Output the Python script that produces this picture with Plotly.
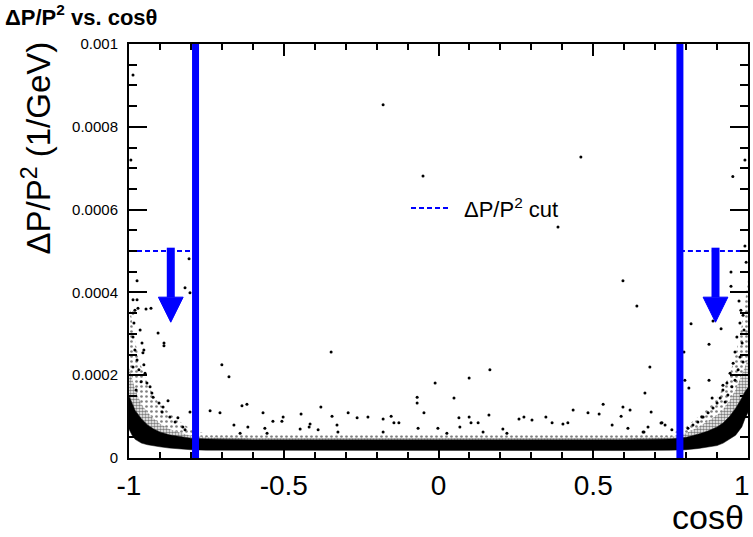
import plotly.graph_objects as go

# ---------------- data ----------------
x_tickvals = [-1, -0.5, 0, 0.5, 1]
x_ticktext = ["-1", "-0.5", "0", "0.5", "1"]
y_tickvals = [0, 0.0002, 0.0004, 0.0006, 0.0008, 0.001]
y_ticktext = ["0", "0.0002", "0.0004", "0.0006", "0.0008", "0.001"]

# dense band of events: cos(theta) grid with the edges of the solid core,
# the dense fringe and the sparse fringe
band_cos = [-1.0, -0.99, -0.98, -0.96, -0.94, -0.92, -0.90, -0.87, -0.84, -0.80, -0.75,
            -0.6, -0.4, -0.2, 0.0, 0.2, 0.4, 0.6,
            0.75, 0.80, 0.84, 0.87, 0.90, 0.92, 0.94, 0.96, 0.98, 0.99, 1.0]
band_low = [7.0e-5, 5.5e-5, 4.5e-5, 3.6e-5, 3.2e-5, 2.9e-5, 2.7e-5, 2.4e-5, 2.2e-5, 2.0e-5, 1.9e-5,
            1.8e-5, 1.8e-5, 1.8e-5, 1.8e-5, 1.8e-5, 1.8e-5, 1.8e-5,
            1.9e-5, 2.0e-5, 2.3e-5, 2.6e-5, 3.0e-5, 3.6e-5, 4.5e-5, 5.5e-5, 7.5e-5, 9.5e-5, 1.1e-4]
band_high = [1.5e-4, 1.3e-4, 1.15e-4, 9.5e-5, 8.0e-5, 7.0e-5, 6.3e-5, 5.6e-5, 5.2e-5, 4.8e-5, 4.6e-5,
             4.4e-5, 4.4e-5, 4.4e-5, 4.5e-5, 4.4e-5, 4.4e-5, 4.4e-5,
             4.6e-5, 5.0e-5, 5.8e-5, 6.5e-5, 7.5e-5, 8.5e-5, 1.0e-4, 1.2e-4, 1.45e-4, 1.6e-4, 1.7e-4]
dense_high = [2.2e-4, 1.9e-4, 1.65e-4, 1.3e-4, 1.1e-4, 9.5e-5, 8.3e-5, 7.0e-5, 6.2e-5, 5.4e-5, 5.0e-5,
              4.8e-5, 4.8e-5, 4.8e-5, 4.9e-5, 4.8e-5, 4.8e-5, 4.8e-5,
              5.0e-5, 6.0e-5, 7.5e-5, 8.8e-5, 1.03e-4, 1.18e-4, 1.38e-4, 1.65e-4, 2.0e-4, 2.2e-4, 2.4e-4]
halo_high = [3.8e-4, 3.3e-4, 2.8e-4, 2.2e-4, 1.8e-4, 1.5e-4, 1.3e-4, 1.1e-4, 9.0e-5, 7.0e-5, 5.8e-5,
             5.5e-5, 5.5e-5, 5.5e-5, 5.6e-5, 5.5e-5, 5.5e-5, 5.5e-5,
             5.8e-5, 7.5e-5, 1.0e-4, 1.2e-4, 1.45e-4, 1.7e-4, 2.0e-4, 2.5e-4, 3.2e-4, 3.8e-4, 4.3e-4]

# individually visible events
pts_cos = [
    -0.987, -0.179, -0.05, 0.46, 0.990, 0.951, -0.994, 0.386, 0.596, 0.641,
    -0.347, -0.069, -0.069, -0.011, 0.050, 0.099, 0.166,
    -0.906, -0.887, -0.887, -0.700, -0.677, -0.738, -0.706, -0.803, -0.874, -0.842,
    -0.806, -0.974, -0.819, -0.803, -0.974, -0.945, -0.929, -0.952,
    0.945, 0.945, 0.971, 0.816, 0.913, 0.887, 0.874, 0.793, 0.683, 0.796, 0.809, 0.874,
    0.667, 0.919, 0.687, 0.884, 0.851, 0.719, 0.732, 0.677, 0.754, 0.664, 0.994, 0.990,
    -0.635, -0.619, -0.661, -0.567, -0.616, -0.535, -0.502, -0.506, -0.561, -0.444,
    -0.415, -0.447, -0.380, -0.344, -0.328, -0.292, -0.263, -0.228, -0.179, -0.153,
    -0.144, -0.128, -0.047, -0.002, 0.066, 0.099, 0.105, 0.128, 0.163, 0.069,
    0.260, 0.276, 0.302, 0.347, 0.367, 0.402, 0.418, 0.435, 0.483, 0.519,
    0.532, 0.561, 0.596, 0.619, 0.590, 0.722, 0.661, 0.612, 0.208, 0.221,
    0.144, 0.027, -0.066, -0.179, -0.325, -0.389, -0.418, -0.554, -0.641,
    -0.987, -0.981, -0.987, -0.971, -0.984, -0.964, -0.987, -0.958, -0.981, -0.955,
    -0.974, -0.952, -0.987, -0.968, -0.948, -0.942, -0.932, -0.961, -0.977, -0.926,
    -0.922, -0.903, -0.890, -0.893, -0.868, -0.851, -0.826, -0.819,
    0.977, 0.984, 0.974, 0.987, 0.964, 0.981, 0.958, 0.974, 0.984, 0.952,
    0.968, 0.942, 0.958, 0.932, 0.948, 0.919, 0.935, 0.910, 0.900, 0.926,
    0.887, 0.871, 0.855, 0.838, 0.822, 0.806,
]
pts_val = [
    9.25e-4, 8.53e-4, 6.81e-4, 7.27e-4, 7.2e-4, 6.8e-4, 7.2e-4, 5.58e-4, 4.28e-4, 3.67e-4,
    2.56e-4, 1.47e-4, 1.33e-4, 1.81e-4, 1.45e-4, 1.93e-4, 2.13e-4,
    3.02e-4, 2.78e-4, 2.71e-4, 2.25e-4, 1.96e-4, 1.14e-4, 1.09e-4, 1.11e-4, 1.38e-4, 9.7e-5,
    4.81e-4, 4.28e-4, 4.11e-4, 3.99e-4, 3.82e-4, 3.6e-4, 3.62e-4, 2.61e-4,
    4.49e-4, 4.15e-4, 3.79e-4, 3.24e-4, 3.12e-4, 3.31e-4, 2.75e-4, 2.56e-4, 2.2e-4, 1.88e-4, 1.69e-4, 1.88e-4,
    1.57e-4, 1.76e-4, 1.11e-4, 1.45e-4, 9.9e-5, 8.45e-5, 8.0e-5, 7.5e-5, 6.8e-5, 6.3e-5, 4.73e-4, 5.12e-4,
    1.26e-4, 1.3e-4, 8.0e-5, 1.09e-4, 7.5e-5, 8.9e-5, 9.9e-5, 8.9e-5, 7.2e-5, 1.06e-4,
    8.2e-5, 7.0e-5, 1.23e-4, 1.01e-4, 8.0e-5, 1.09e-4, 9.7e-5, 9.9e-5, 9.4e-5, 1.01e-4,
    8.5e-5, 8.5e-5, 1.09e-4, 7.2e-5, 9.7e-5, 9.9e-5, 8.5e-5, 8.5e-5, 1.04e-4, 7.5e-5,
    9.4e-5, 9.9e-5, 9.2e-5, 9.9e-5, 8.5e-5, 8.2e-5, 8.5e-5, 1.16e-4, 1.09e-4, 1.06e-4,
    1.3e-4, 8.0e-5, 1.23e-4, 1.16e-4, 1.01e-4, 8.5e-5, 6.3e-5, 7.2e-5, 7.0e-5, 6.0e-5,
    6.3e-5, 6.0e-5, 7.2e-5, 6.3e-5, 6.3e-5, 6.8e-5, 7.5e-5, 6.0e-5, 6.0e-5,
    3.82e-4, 3.57e-4, 3.5e-4, 3.62e-4, 3.26e-4, 3.09e-4, 2.92e-4, 2.78e-4, 2.61e-4, 2.54e-4,
    2.37e-4, 2.25e-4, 2.2e-4, 2.13e-4, 2.05e-4, 1.81e-4, 1.72e-4, 1.84e-4, 1.64e-4, 1.57e-4,
    1.47e-4, 1.33e-4, 1.23e-4, 1.11e-4, 9.9e-5, 8.7e-5, 7.5e-5, 6.8e-5,
    3.57e-4, 3.45e-4, 3.26e-4, 3.09e-4, 2.92e-4, 2.78e-4, 2.56e-4, 2.44e-4, 2.32e-4, 2.29e-4,
    2.13e-4, 2.05e-4, 1.88e-4, 1.81e-4, 1.72e-4, 1.64e-4, 1.52e-4, 1.45e-4, 1.33e-4, 1.35e-4,
    1.21e-4, 1.09e-4, 9.9e-5, 8.7e-5, 8.0e-5, 7.2e-5,
]

cut_cos = [-0.785, 0.78]          # vertical cos(theta) cuts
cut_dpp = 0.0005                   # dP/P^2 cut value
arrow_cos = [-0.865, 0.895]        # arrow positions
arrow_tip = 0.000328               # arrow tip value
legend_label = "ΔP/P<sup>2</sup> cut"

# ---------------- figure ----------------
BLUE = "#0000ff"
fig = go.Figure()


def band(upper, lower, **kw):
    fig.add_trace(go.Scatter(
        x=band_cos + band_cos[::-1], y=upper + lower[::-1],
        fill="toself", mode="lines", hoverinfo="skip", showlegend=False, **kw))


# sparse fringe
band(halo_high, dense_high, line=dict(width=0), fillcolor="rgba(0,0,0,0)",
     fillpattern=dict(shape=".", fgcolor="black", bgcolor="rgba(0,0,0,0)",
                      size=5, solidity=0.22))
# dense fringe
band(dense_high, band_high, line=dict(width=0), fillcolor="rgba(0,0,0,0)",
     fillpattern=dict(shape=".", fgcolor="black", bgcolor="rgba(0,0,0,0)",
                      size=3, solidity=0.55))
# solid core
band(band_high, band_low, line=dict(width=0.5, color="black"), fillcolor="black")

# isolated events
fig.add_trace(go.Scatter(
    x=pts_cos, y=pts_val, mode="markers",
    marker=dict(size=3, color="black"), showlegend=False))

# vertical cut lines
for c in cut_cos:
    fig.add_trace(go.Scatter(x=[c, c], y=[0, 0.001], mode="lines",
                             line=dict(color=BLUE, width=7), showlegend=False))
# horizontal dashed cut lines
fig.add_trace(go.Scatter(x=[-1, cut_cos[0]], y=[cut_dpp, cut_dpp], mode="lines",
                         line=dict(color=BLUE, width=2, dash="5px,3px"), showlegend=False))
fig.add_trace(go.Scatter(x=[cut_cos[1], 1], y=[cut_dpp, cut_dpp], mode="lines",
                         line=dict(color=BLUE, width=2, dash="5px,3px"), showlegend=False))
# arrows
head_h = 0.0000605
head_w = 0.040
for a in arrow_cos:
    fig.add_trace(go.Scatter(x=[a, a], y=[cut_dpp + 0.000008, arrow_tip + head_h], mode="lines",
                             line=dict(color=BLUE, width=8), showlegend=False))
    fig.add_trace(go.Scatter(x=[a - head_w, a + head_w, a, a - head_w],
                             y=[arrow_tip + head_h, arrow_tip + head_h, arrow_tip, arrow_tip + head_h],
                             fill="toself", fillcolor=BLUE, mode="lines",
                             line=dict(color=BLUE, width=1), showlegend=False))

# plot area in pixels: x 129..748, y 44..458
W, H = 753, 537
L, R, T, B = 129, 5, 44, 79
PW, PH = W - L - R, H - T - B


def px(xp):
    return (xp - L) / PW


def py(yp):
    return (H - B - yp) / PH


FONT = "Liberation Sans, Arial, Helvetica, sans-serif"
XTICK_SIZE = 28

# last x tick label sits at the very right edge: drawn as an annotation so it stays inside
axis_ticktext = x_ticktext[:-1] + [""]

fig.update_layout(
    width=W, height=H, autosize=False,
    margin=dict(l=L, r=R, t=T, b=B, pad=0, autoexpand=False),
    paper_bgcolor="white", plot_bgcolor="white",
    font=dict(family=FONT, color="black"),
    showlegend=False,
    title=dict(text="<b>ΔP/P<sup>2</sup> vs. cosθ</b>", x=5 / W, xanchor="left",
               y=1 - 17 / H, yanchor="middle", font=dict(size=22, family=FONT)),
    xaxis=dict(range=[-1, 1], showgrid=False, zeroline=False, automargin=False,
               showline=True, linecolor="black", linewidth=2, mirror="allticks",
               ticks="inside", ticklen=12, tickwidth=1.5, tickcolor="black",
               tickmode="array", tickvals=x_tickvals, ticktext=axis_ticktext,
               tickfont=dict(size=XTICK_SIZE, family=FONT), ticklabelstandoff=1,
               ticklabeloverflow="allow",
               minor=dict(ticks="inside", ticklen=6, tickwidth=1.5, tickcolor="black",
                          tickmode="linear", tick0=-1, dtick=0.1, showgrid=False)),
    yaxis=dict(range=[0, 0.001], showgrid=False, zeroline=False, automargin=False,
               showline=True, linecolor="black", linewidth=2, mirror="allticks",
               ticks="inside", ticklen=18, tickwidth=1.5, tickcolor="black",
               tickmode="array", tickvals=y_tickvals, ticktext=y_ticktext,
               tickfont=dict(size=15, family=FONT), ticklabelstandoff=6,
               ticklabeloverflow="allow",
               minor=dict(ticks="inside", ticklen=8, tickwidth=1.5, tickcolor="black",
                          tickmode="linear", tick0=0, dtick=0.00005, showgrid=False)),
    shapes=[dict(type="line", xref="paper", yref="paper",
                 x0=px(411), x1=px(450), y0=py(208), y1=py(208),
                 line=dict(color=BLUE, width=2, dash="5px,3px"))],
    annotations=[
        dict(text=x_ticktext[-1], xref="x", yref="paper", x=x_tickvals[-1], y=py(485),
             xanchor="right", yanchor="middle", xshift=4, showarrow=False,
             font=dict(size=XTICK_SIZE, family=FONT)),
        dict(text=legend_label, xref="paper", yref="paper", x=px(462), y=py(208),
             xanchor="left", yanchor="middle", showarrow=False,
             font=dict(size=22, family=FONT)),
        dict(text="ΔP/P<sup>2</sup> (1/GeV)", xref="paper", yref="paper",
             x=px(36), y=py(40), xanchor="center", yanchor="top", textangle=-90,
             showarrow=False, font=dict(size=33, family=FONT)),
        dict(text="cosθ", xref="paper", yref="paper", x=px(746), y=py(517),
             xanchor="right", yanchor="middle", showarrow=False,
             font=dict(size=34, family=FONT)),
    ],
)

fig.write_html("out.html", config={"responsive": False})
